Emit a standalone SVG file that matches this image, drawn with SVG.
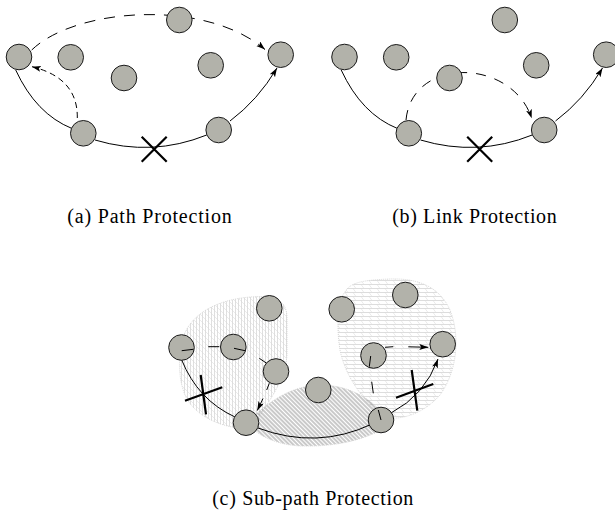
<svg xmlns="http://www.w3.org/2000/svg" width="615" height="514" viewBox="0 0 615 514">
<style>
.n{fill:#b2b2aa;stroke:#1a1a1a;stroke-width:1}
.c{fill:none;stroke:#000;stroke-width:1}
.d{fill:none;stroke:#000;stroke-width:1;stroke-dasharray:11 9}
.ds{fill:none;stroke:#000;stroke-width:1;stroke-dasharray:6 4}
.x{stroke:#000;stroke-width:2.2;fill:none}
.lbl{font-family:"Liberation Serif","Times New Roman",serif;font-size:20px;fill:#000}
.rg{stroke:#cfcfcf;stroke-width:0.8;stroke-dasharray:1 1}
</style>
<defs>
<marker id="ah" markerUnits="userSpaceOnUse" markerWidth="10" markerHeight="7" refX="9" refY="3" orient="auto">
<path d="M0,0 L9,3 L0,6 L2,3 Z" fill="#000"/>
</marker>
<pattern id="hv" width="6" height="12" patternUnits="userSpaceOnUse">
<path d="M1.5,0 V12 M4.5,0 V12" stroke="#cacaca" stroke-width="0.6"/>
<path d="M0,0 L6,6 M0,6 L6,12" stroke="#d6d6d6" stroke-width="0.5"/>
</pattern>
<pattern id="hd" width="3" height="3" patternUnits="userSpaceOnUse" patternTransform="rotate(-45)">
<line x1="1" y1="0" x2="1" y2="3" stroke="#777" stroke-width="0.8"/>
</pattern>
<pattern id="hh" width="8" height="4" patternUnits="userSpaceOnUse">
<path d="M0,0.5 H8" stroke="#c6c6c6" stroke-width="0.6"/>
<path d="M1,0.5 L4,4.5" stroke="#d4d4d4" stroke-width="0.5"/>
</pattern>
</defs>

<g id="regions">
<path class="rg" fill="url(#hv)" d="M183,338 C190,315 215,300 250,297 C275,295 287,300 287,318 L287,355 C285,380 270,400 258,418 L240,428 C215,426 192,412 185,395 C178,378 178,355 183,338 Z"/>
<path class="rg" fill="url(#hh)" d="M345,292 C350,282 365,280 390,279 C420,278 440,288 450,310 C460,335 458,370 440,395 C425,412 405,420 385,418 L375,410 C360,395 345,375 340,350 C336,325 338,300 345,292 Z"/>
<path class="rg" fill="url(#hd)" d="M252,418 C270,400 295,385 320,385 C345,385 365,395 380,410 L385,428 C360,442 330,447 300,446 C280,445 262,438 252,428 Z"/>
</g>

<g id="connectors">
<path class="c" d="M15.7,70 Q36,114 72,128.5"/>
<path class="c" d="M95,140 Q152,157 206.7,135"/>
<path class="c" d="M230,121 Q258,100 277,68" marker-end="url(#ah)"/>
<path class="d" d="M31.7,50 C75,8 205,-2 265,49.5" marker-end="url(#ah)"/>
<path class="ds" d="M77.3,118 Q78,78 32,66.7" marker-end="url(#ah)"/>

<path class="c" d="M341.2,70 Q361.5,114 397.5,128.5"/>
<path class="c" d="M420.5,140 Q477.5,157 532.2,135"/>
<path class="c" d="M555.5,121 Q583.5,100 602.5,68" marker-end="url(#ah)"/>
<path class="d" style="stroke-dasharray:10 9" d="M406,120 C412,56 512,58 531.7,118.3" marker-end="url(#ah)"/>

<path class="c" d="M181.7,360 Q198,400 235,417"/>
<path class="c" d="M258,428 Q317,450 372,424"/>
<path class="c" d="M391,413 Q425,395 438,359" marker-end="url(#ah)"/>
<path class="c" d="M208.3,346.7 L219.3,346.7 M259.3,358.3 L266.7,363.3 M269.3,383.3 L266.7,390"/>
<path class="c" d="M263,398.5 L257.3,410.5" marker-end="url(#ah)"/>
<path class="c" d="M371.7,381.7 L373.3,393.3 M385,347.3 L393.3,346.7"/>
<path class="c" d="M408.3,346.8 L428.3,347.3" marker-end="url(#ah)"/>
</g>

<g id="a1"><circle class="n" cx="19" cy="57" r="12.8"/></g>
<g id="a2"><circle class="n" cx="70.7" cy="57.3" r="12.8"/></g>
<g id="a3"><circle class="n" cx="124" cy="78" r="12.8"/></g>
<g id="a4"><circle class="n" cx="179.3" cy="20" r="12.8"/></g>
<g id="a5"><circle class="n" cx="210.7" cy="65.3" r="12.8"/></g>
<g id="a6"><circle class="n" cx="280.7" cy="54.7" r="12.8"/></g>
<g id="a7"><circle class="n" cx="83.3" cy="133.3" r="12.8"/></g>
<g id="a8"><circle class="n" cx="218.7" cy="130" r="12.8"/></g>

<g id="b1"><circle class="n" cx="344.5" cy="57" r="12.8"/></g>
<g id="b2"><circle class="n" cx="396.2" cy="57.3" r="12.8"/></g>
<g id="b3"><circle class="n" cx="449.5" cy="78" r="12.8"/></g>
<g id="b4"><circle class="n" cx="504.8" cy="20" r="12.8"/></g>
<g id="b5"><circle class="n" cx="536.2" cy="65.3" r="12.8"/></g>
<g id="b6"><circle class="n" cx="606.2" cy="54.7" r="12.8"/></g>
<g id="b7"><circle class="n" cx="408.8" cy="133.3" r="12.8"/></g>
<g id="b8"><circle class="n" cx="544.2" cy="130" r="12.8"/></g>

<g id="c1"><circle class="n" cx="181.5" cy="347.5" r="12.8"/></g>
<g id="c2"><circle class="n" cx="233.3" cy="347" r="12.8"/></g>
<g id="c3"><circle class="n" cx="269.3" cy="308.3" r="12.8"/></g>
<g id="c4"><circle class="n" cx="276" cy="371.5" r="12.8"/></g>
<g id="c5"><circle class="n" cx="246" cy="422.7" r="12.8"/></g>
<g id="c6"><circle class="n" cx="318.3" cy="390" r="12.8"/></g>
<g id="c7"><circle class="n" cx="341.7" cy="309.3" r="12.8"/></g>
<g id="c8"><circle class="n" cx="405.3" cy="295" r="12.8"/></g>
<g id="c9"><circle class="n" cx="373.5" cy="355.5" r="12.8"/></g>
<g id="c10"><circle class="n" cx="442.7" cy="344.2" r="12.8"/></g>
<g id="c11"><circle class="n" cx="381" cy="420" r="12.8"/></g>

<g id="overlay">
<path class="c" d="M181.7,350.7 L193.3,349.3 M234,348.3 L245,350.7 M370.7,356 L369.3,366.7 M381,420 L378.3,410"/>
</g>

<g id="failures">
<path class="x" d="M141.7,136.7 L166.7,161.7 M166.7,136.7 L141.7,161.7"/>
<path class="x" d="M467.2,136.7 L492.2,161.7 M492.2,136.7 L467.2,161.7"/>
<path class="x" d="M185,400.7 L222.3,387.3 M200.7,375 L206,414.3"/>
<path class="x" d="M396,397.7 L433.3,384 M411.7,370 L417.3,410.7"/>
</g>

<g id="labels">
<text class="lbl" x="67.3" y="223" textLength="164.4" lengthAdjust="spacing">(a) Path Protection</text>
<text class="lbl" x="392.3" y="223" textLength="164.4" lengthAdjust="spacing">(b) Link Protection</text>
<text class="lbl" x="212.3" y="504.5" textLength="201" lengthAdjust="spacing">(c) Sub-path Protection</text>
</g>
</svg>
